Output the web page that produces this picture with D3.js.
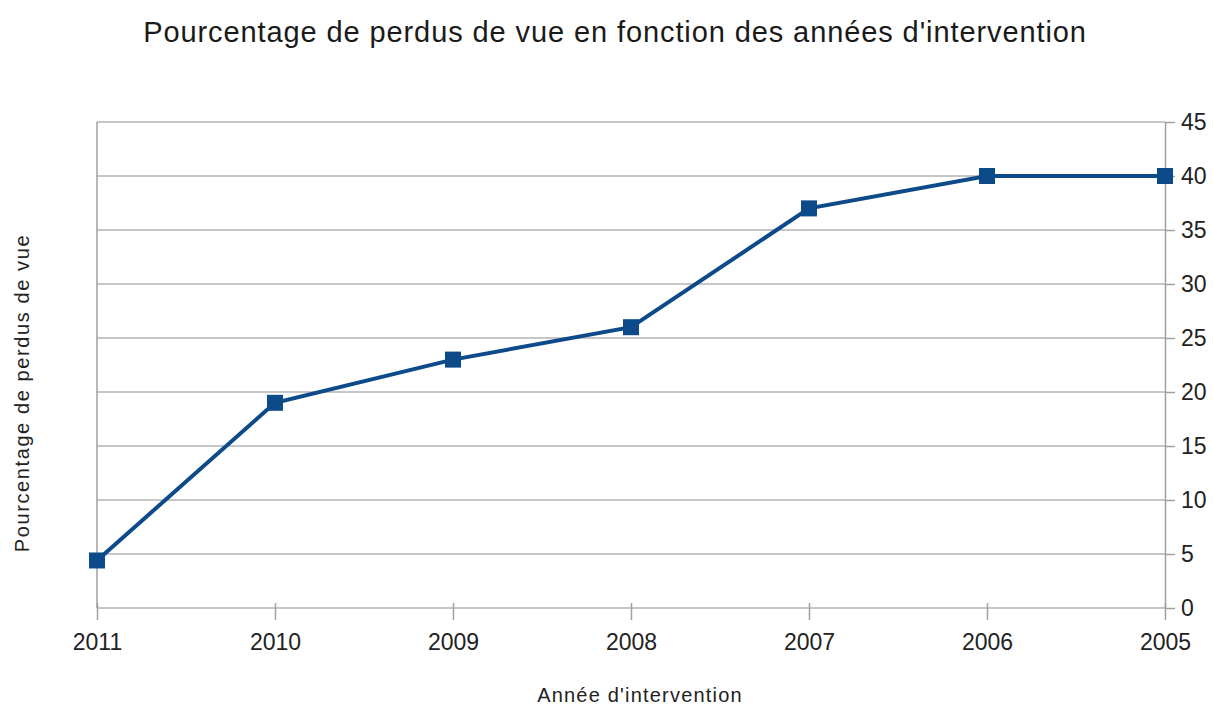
<!DOCTYPE html>
<html>
<head>
<meta charset="utf-8">
<script src="https://cdn.jsdelivr.net/npm/d3@7"></script>
<style>
  body { margin: 0; background: #fff; }
  svg { font-family: "Liberation Sans", Arial, sans-serif; }
  .grid line { stroke: #b3b3b3; stroke-width: 1.5; }
  .axis path, .axis line { stroke: #a0a0a0; stroke-width: 1.5; }
  .axis text { fill: #222; font-size: 23px; }
</style>
</head>
<body>
<div class="chart-main"></div>
<script>

//////////
// DATA //
//////////

var years = ['2011', '2010', '2009', '2008', '2007', '2006', '2005'];
var pourcentages = [4.4, 19, 23, 26, 37, 40, 40];
var yTicks = [0, 5, 10, 15, 20, 25, 30, 35, 40, 45];

////////////////
// DIMENSIONS //
////////////////

var w = 1213, h = 706;
var mLeft = 97, mRight = 1165, mTop = 122, mBottom = 608;

var svg = d3.select('.chart-main')
    .append('svg')
    .attr('width', w)
    .attr('height', h);

////////////
// SCALES //
////////////

var xScale = d3.scalePoint()
    .domain(years)
    .range([mLeft, mRight]);

var yScale = d3.scaleLinear()
    .domain([0, 45])
    .range([mBottom, mTop]);

//////////
// GRID //
//////////

svg.append('g')
    .attr('class', 'grid')
    .selectAll('line')
    .data(yTicks)
    .enter()
    .append('line')
    .attr('x1', mLeft)
    .attr('x2', mRight)
    .attr('y1', function(d) { return yScale(d); })
    .attr('y2', function(d) { return yScale(d); });

//////////
// AXES //
//////////

var xAxis = d3.axisBottom(xScale)
    .tickSize(17)
    .tickPadding(8);

var gx = svg.append('g')
    .attr('class', 'axis')
    .attr('transform', 'translate(0,' + (mBottom - 5) + ')')
    .call(xAxis);
gx.select('.domain').remove();
gx.selectAll('text').attr('dy', '0.95em');

var yAxis = d3.axisRight(yScale)
    .tickValues(yTicks)
    .tickSize(10)
    .tickPadding(6)
    .tickSizeOuter(0);

svg.append('g')
    .attr('class', 'axis')
    .attr('transform', 'translate(' + mRight + ',0)')
    .call(yAxis);

// left edge of plot
svg.append('line')
    .attr('x1', mLeft).attr('x2', mLeft)
    .attr('y1', mTop).attr('y2', mBottom)
    .attr('stroke', '#a0a0a0')
    .attr('stroke-width', 1.5);

//////////
// LINE //
//////////

var line = d3.line()
    .x(function(d, i) { return xScale(years[i]); })
    .y(function(d) { return yScale(d); });

svg.append('path')
    .datum(pourcentages)
    .attr('d', line)
    .attr('fill', 'none')
    .attr('stroke', '#0d4a8a')
    .attr('stroke-width', 4);

var ms = 16;
svg.selectAll('.marker')
    .data(pourcentages)
    .enter()
    .append('rect')
    .attr('class', 'marker')
    .attr('x', function(d, i) { return xScale(years[i]) - ms / 2; })
    .attr('y', function(d) { return yScale(d) - ms / 2; })
    .attr('width', ms)
    .attr('height', ms)
    .attr('fill', '#0d4a8a');

////////////
// LABELS //
////////////

svg.append('text')
    .attr('x', 615)
    .attr('y', 42)
    .attr('text-anchor', 'middle')
    .attr('font-size', 29)
    .attr('letter-spacing', 0.9)
    .attr('fill', '#1a1a1a')
    .text("Pourcentage de perdus de vue en fonction des années d'intervention");

svg.append('text')
    .attr('x', 640)
    .attr('y', 702)
    .attr('text-anchor', 'middle')
    .attr('font-size', 20)
    .attr('letter-spacing', 1.2)
    .attr('fill', '#222')
    .text("Année d'intervention");

svg.append('text')
    .attr('transform', 'translate(29,' + 393 + ') rotate(-90)')
    .attr('text-anchor', 'middle')
    .attr('font-size', 20)
    .attr('letter-spacing', 1.6)
    .attr('fill', '#222')
    .text('Pourcentage de perdus de vue');

</script>
</body>
</html>
